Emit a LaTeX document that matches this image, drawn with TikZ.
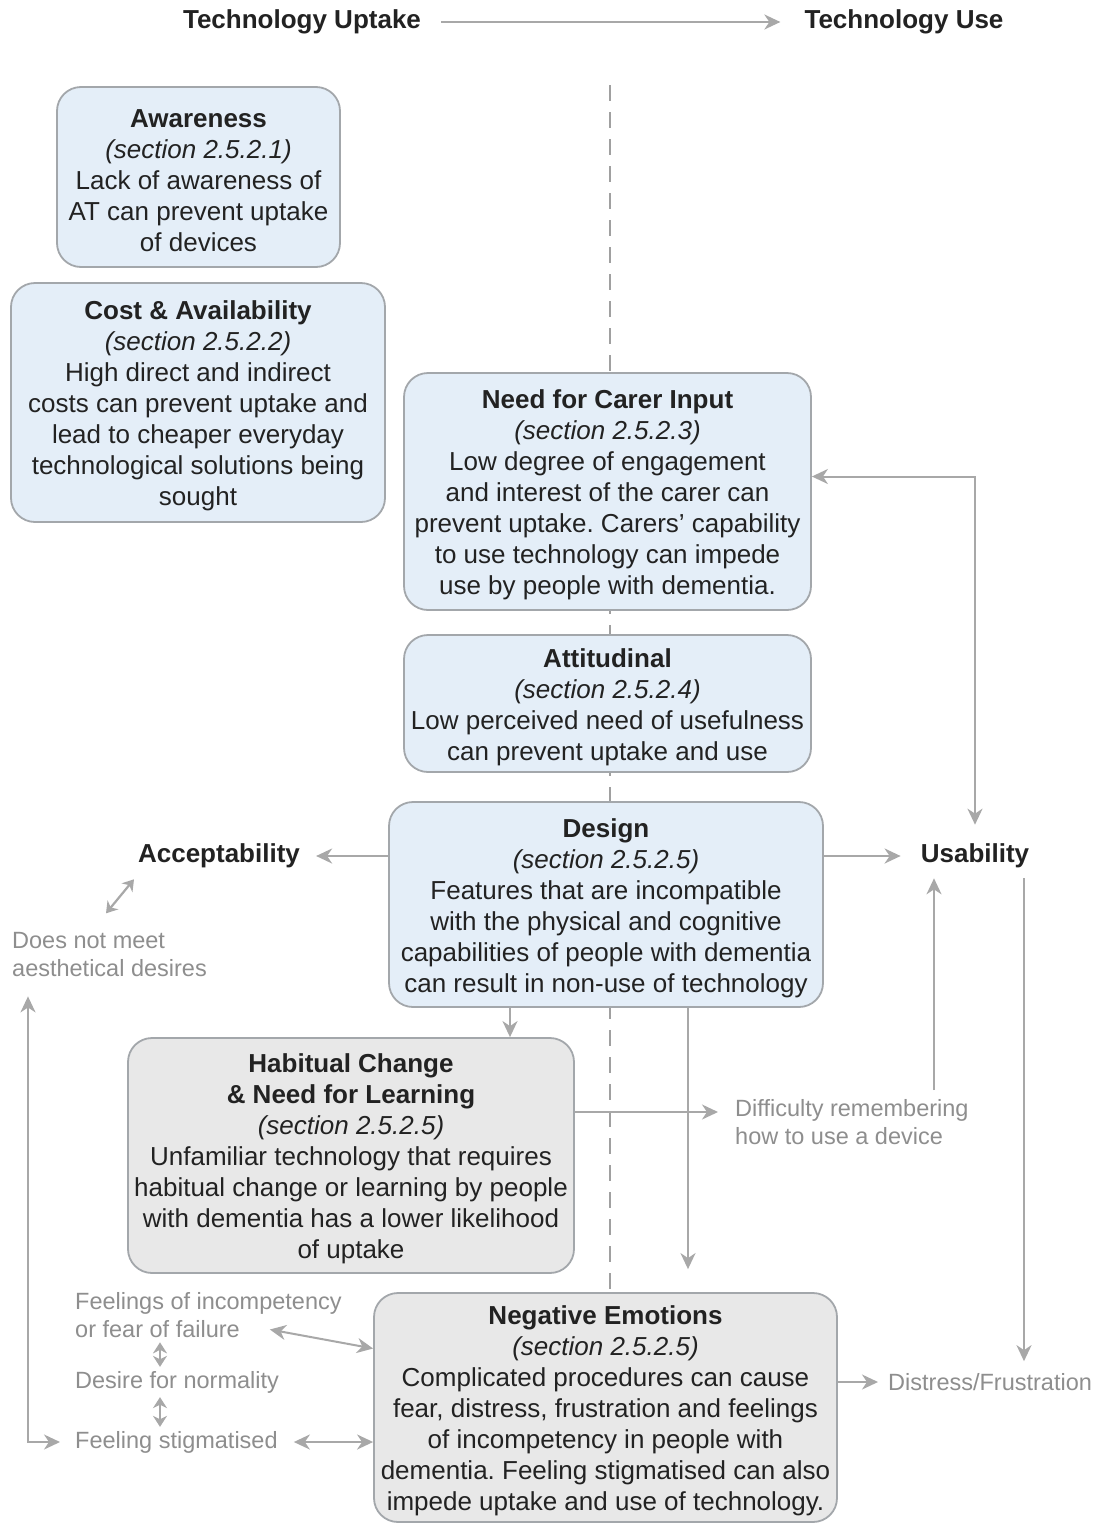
\documentclass[tikz,border=0pt]{standalone}
\usepackage{fontspec}
\setmainfont{Liberation Sans}
\usetikzlibrary{arrows.meta}
\definecolor{ink}{HTML}{222222}
\definecolor{blueFill}{HTML}{E4EEF8}
\definecolor{greyFill}{HTML}{E8E8E8}
\definecolor{boxLine}{HTML}{A3A7AB}
\definecolor{wire}{HTML}{A8A8A8}
\definecolor{noteGrey}{HTML}{8E8E8E}
\definecolor{divider}{HTML}{A0A0A0}
% extra height on the first line of each box lowers the text block slightly
\newcommand\boxlead{\rule{0pt}{26pt}}
\frenchspacing
\begin{document}
\begin{tikzpicture}[x=1pt,y=-1pt,
  >={Stealth[length=16pt,width=15pt,inset=5pt]},
  box/.style={draw=boxLine, line width=1.8pt, rounded corners=24pt, align=center,
    text=ink, font=\fontsize{26}{31}\selectfont, inner sep=0pt},
  bluebox/.style={box, fill=blueFill},
  greybox/.style={box, fill=greyFill},
  head/.style={text=ink, font=\fontsize{26}{31}\selectfont\bfseries, inner sep=0pt},
  remark/.style={text=noteGrey, font=\fontsize{23.5}{28}\selectfont, align=left,
    inner sep=0pt, anchor=west},
  link/.style={draw=wire, line width=2pt, ->},
  twoway/.style={draw=wire, line width=2pt, <->},
  minor/.style={draw=wire, line width=2.2pt,
    {Stealth[length=11pt,width=14pt,inset=3.5pt]}-{Stealth[length=11pt,width=14pt,inset=3.5pt]}},
]
\useasboundingbox[fill=white] (0,0) rectangle (1101,1526);

% uptake / use divider
\draw[divider, line width=1.5pt, dash pattern=on 16pt off 11pt] (610,85) -- (610,1293);

% header
\node[head] (uptake) at (302,22) {Technology Uptake};
\node[head] (use) at (904,22) {Technology Use};
\draw[link] ([xshift=20]uptake.east) -- ([xshift=-24]use.west);

% barrier boxes
\node[bluebox, minimum width=283pt, minimum height=180pt] (aware) at (198.5,177)
  {\boxlead\textbf{Awareness}\\ \textit{(section 2.5.2.1)}\\ Lack of awareness of\\ AT can prevent uptake\\ of devices};
\node[bluebox, minimum width=374pt, minimum height=239pt] (cost) at (198,402.5)
  {\boxlead\textbf{Cost \& Availability}\\ \textit{(section 2.5.2.2)}\\ High direct and indirect\\ costs can prevent uptake and\\ lead to cheaper everyday\\ technological solutions being\\ sought};
\node[bluebox, minimum width=407pt, minimum height=237pt] (need) at (607.5,491.5)
  {\boxlead\textbf{Need for Carer Input}\\ \textit{(section 2.5.2.3)}\\ Low degree of engagement\\ and interest of the carer can\\ prevent uptake. Carers' capability\\ to use technology can impede\\ use by people with dementia.};
\node[bluebox, minimum width=407pt, minimum height=137pt] (att) at (607.5,703.5)
  {\boxlead\textbf{Attitudinal}\\ \textit{(section 2.5.2.4)}\\ Low perceived need of usefulness\\ can prevent uptake and use};
\node[bluebox, minimum width=434pt, minimum height=205pt] (design) at (606,904.5)
  {\boxlead\textbf{Design}\\ \textit{(section 2.5.2.5)}\\ Features that are incompatible\\ with the physical and cognitive\\ capabilities of people with dementia\\ can result in non-use of technology};
\node[greybox, minimum width=446pt, minimum height=235pt] (hab) at (351,1155.5)
  {\boxlead\textbf{Habitual Change}\\ \textbf{\& Need for Learning}\\ \textit{(section 2.5.2.5)}\\ Unfamiliar technology that requires\\ habitual change or learning by people\\ with dementia has a lower likelihood\\ of uptake};
\node[greybox, minimum width=463pt, minimum height=229pt] (neg) at (605.5,1407.5)
  {\boxlead\textbf{Negative Emotions}\\ \textit{(section 2.5.2.5)}\\ Complicated procedures can cause\\ fear, distress, frustration and feelings\\ of incompetency in people with\\ dementia. Feeling stigmatised can also\\ impede uptake and use of technology.};

% outcome labels
\node[head] (accept) at (219,856) {Acceptability};
\node[head] (usab) at (975,856) {Usability};
\node[remark] (aes) at (12,955) {Does not meet\\aesthetical desires};
\node[remark] (diff) at (735,1122) {Difficulty remembering\\how to use a device};
\node[remark] (feel) at (75,1315.5) {Feelings of incompetency\\or fear of failure};
\node[remark] (norm) at (75,1382) {Desire for normality};
\node[remark] (stig) at (75,1442) {Feeling stigmatised};
\node[remark] (dist) at (888,1382) {Distress/Frustration};

% design outcomes
\coordinate (accTip) at ([xshift=16]accept.east);
\coordinate (useTip) at ([xshift=-20]usab.west);
\draw[link] (accTip -| design.west) -- (accTip);
\draw[link] (useTip -| design.east) -- (useTip);
\draw[twoway] ([yshift=15]need.east) -| ([yshift=19]usab.north);

\coordinate (uL) at ([xshift=-41,yshift=-10]usab.south);
\coordinate (uR) at ([xshift=49,yshift=-10]usab.south);
\coordinate (dTop) at ([yshift=9]diff.north);
\draw[link] (uL |- dTop) -- (uL);
\draw[link, shorten >=12pt] (uR) -- (uR |- dist.north);
\draw[link] (neg.east |- dist.west) -- ([xshift=-10]dist.west);

\coordinate (dL) at ([xshift=-96]design.south);
\coordinate (dR) at ([xshift=82]design.south);
\draw[link] (dL) -- (dL |- hab.north);
\draw[link, shorten >=23pt] (dR) -- (dR |- neg.north);
\coordinate (diffTip) at ([xshift=-17,yshift=10]diff.west);
\draw[link] (diffTip -| hab.east) -- (diffTip);

% acceptability chain
\draw[minor] ([xshift=-85,yshift=-11]accept.south) -- ([xshift=-113,yshift=-45]accept.south);
\draw[twoway] ([xshift=16,yshift=-19]aes.south west) |- ([xshift=-15]stig.west);

% emotional chain
\draw[twoway] ([xshift=-72,yshift=-14]feel.east) -- ([yshift=59]neg.west);
\draw[minor] ([xshift=85,yshift=-4]feel.south west) -- ([xshift=85,yshift=4]norm.north west);
\draw[minor] ([xshift=85,yshift=-4]norm.south west) -- ([xshift=85,yshift=4]stig.north west);
\draw[twoway] ([xshift=16]stig.east) -- (neg.west |- stig.east);
\end{tikzpicture}
\end{document}
